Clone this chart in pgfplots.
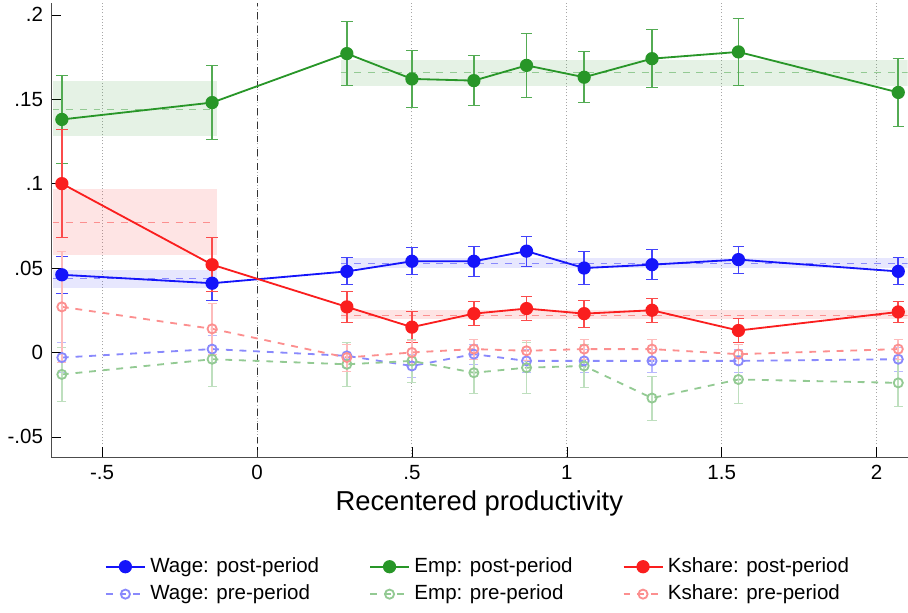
\documentclass[border=0pt]{standalone}
\usepackage{pgfplots}
\pgfplotsset{compat=1.18}
\usepackage{fontspec}
\setmainfont{Liberation Sans}
\definecolor{cb}{RGB}{20,20,250}
\definecolor{cg}{RGB}{40,150,40}
\definecolor{cr}{RGB}{250,30,30}
\begin{document}
\begin{tikzpicture}
\begin{axis}[
  scale only axis, width=13.2cm, height=7.0cm,
  xmin=-0.665, xmax=2.1, ymin=-0.062, ymax=0.207,
  xtick={-0.5,0,0.5,1,1.5,2}, xticklabels={-.5,0,.5,1,1.5,2},
  ytick={-0.05,0,0.05,0.1,0.15,0.2}, yticklabels={-.05,0,.05,.1,.15,.2},
  /pgf/number format/assume math mode=true,
  tick style={black}, axis line style={black!70},
  xmajorgrids, grid style={densely dotted, black!35},
  xlabel={Recentered productivity}, xlabel style={font=\large, yshift=2pt},
  ticklabel style={font=\small},
  axis x line*=bottom, axis y line*=left,
  legend style={at={(0.5,-0.2)}, anchor=north, draw=none, legend columns=3,
    /tikz/every even column/.append style={column sep=0.7cm}, font=\small,
    legend cell align=left},
  clip=true,
]
% bands
\addplot[forget plot, fill=cg, fill opacity=0.12, draw=none] coordinates {(-0.66,0.128)(-0.13,0.128)(-0.13,0.161)(-0.66,0.161)} -- cycle;
\addplot[forget plot, fill=cg, fill opacity=0.12, draw=none] coordinates {(0.27,0.158)(2.1,0.158)(2.1,0.173)(0.27,0.173)} -- cycle;
\addplot[forget plot, fill=cr, fill opacity=0.12, draw=none] coordinates {(-0.66,0.058)(-0.13,0.058)(-0.13,0.097)(-0.66,0.097)} -- cycle;
\addplot[forget plot, fill=cr, fill opacity=0.12, draw=none] coordinates {(0.27,0.020)(2.1,0.020)(2.1,0.025)(0.27,0.025)} -- cycle;
\addplot[forget plot, fill=cb, fill opacity=0.10, draw=none] coordinates {(-0.66,0.038)(-0.13,0.038)(-0.13,0.049)(-0.66,0.049)} -- cycle;
\addplot[forget plot, fill=cb, fill opacity=0.10, draw=none] coordinates {(0.27,0.050)(2.1,0.050)(2.1,0.056)(0.27,0.056)} -- cycle;
\addplot[forget plot, cg!50, dashed] coordinates {(-0.66,0.144)(-0.13,0.144)};
\addplot[forget plot, cg!50, dashed] coordinates {(0.27,0.166)(2.1,0.166)};
\addplot[forget plot, cr!50, dashed] coordinates {(-0.66,0.077)(-0.13,0.077)};
\addplot[forget plot, cr!50, dashed] coordinates {(0.27,0.022)(2.1,0.022)};
\addplot[forget plot, cb!50, dashed] coordinates {(-0.66,0.044)(-0.13,0.044)};
\addplot[forget plot, cb!50, dashed] coordinates {(0.27,0.053)(2.1,0.053)};
\addplot[forget plot, black!80, dashed] coordinates {(0,-0.062)(0,0.207)};
% post
\addplot[cb, thick, mark=*, mark size=2.5pt, error bars/.cd, y dir=both, y explicit, error bar style={cb!80,thick}] coordinates {
(-0.63,0.046)+-(0,0.011) (-0.145,0.041)+-(0,0.010) (0.29,0.048)+-(0,0.008) (0.50,0.054)+-(0,0.008) (0.70,0.054)+-(0,0.009) (0.87,0.060)+-(0,0.009) (1.056,0.050)+-(0,0.010) (1.275,0.052)+-(0,0.009) (1.554,0.055)+-(0,0.008) (2.07,0.048)+-(0,0.008)};
\addlegendentry{Wage: post-period}
\addplot[cg, thick, mark=*, mark size=2.5pt, error bars/.cd, y dir=both, y explicit, error bar style={cg!80,thick}] coordinates {
(-0.63,0.138)+-(0,0.026) (-0.145,0.148)+-(0,0.022) (0.29,0.177)+-(0,0.019) (0.50,0.162)+-(0,0.017) (0.70,0.161)+-(0,0.015) (0.87,0.170)+-(0,0.019) (1.056,0.163)+-(0,0.015) (1.275,0.174)+-(0,0.017) (1.554,0.178)+-(0,0.020) (2.07,0.154)+-(0,0.020)};
\addlegendentry{Emp: post-period}
\addplot[cr, thick, mark=*, mark size=2.5pt, error bars/.cd, y dir=both, y explicit, error bar style={cr!80,thick}] coordinates {
(-0.63,0.100)+-(0,0.032) (-0.145,0.052)+-(0,0.016) (0.29,0.027)+-(0,0.009) (0.50,0.015)+-(0,0.009) (0.70,0.023)+-(0,0.007) (0.87,0.026)+-(0,0.007) (1.056,0.023)+-(0,0.008) (1.275,0.025)+-(0,0.007) (1.554,0.013)+-(0,0.007) (2.07,0.024)+-(0,0.006)};
\addlegendentry{Kshare: post-period}
% pre
\addplot[cb!50, thick, dashed, mark=o, mark size=2pt, mark options={solid}, error bars/.cd, y dir=both, y explicit, error bar style={cb!30,thick,solid}] coordinates {
(-0.63,-0.003)+-(0,0.009) (-0.145,0.002)+-(0,0.008) (0.29,-0.002)+-(0,0.007) (0.50,-0.008)+-(0,0.007) (0.70,-0.001)+-(0,0.006) (0.87,-0.005)+-(0,0.007) (1.056,-0.005)+-(0,0.007) (1.275,-0.005)+-(0,0.007) (1.554,-0.005)+-(0,0.007) (2.07,-0.004)+-(0,0.007)};
\addlegendentry{Wage: pre-period}
\addplot[cg!50, thick, dashed, mark=o, mark size=2pt, mark options={solid}, error bars/.cd, y dir=both, y explicit, error bar style={cg!30,thick,solid}] coordinates {
(-0.63,-0.013)+-(0,0.016) (-0.145,-0.004)+-(0,0.016) (0.29,-0.007)+-(0,0.013) (0.50,-0.005)+-(0,0.013) (0.70,-0.012)+-(0,0.012) (0.87,-0.009)+-(0,0.015) (1.056,-0.008)+-(0,0.013) (1.275,-0.027)+-(0,0.013) (1.554,-0.016)+-(0,0.014) (2.07,-0.018)+-(0,0.014)};
\addlegendentry{Emp: pre-period}
\addplot[cr!50, thick, dashed, mark=o, mark size=2pt, mark options={solid}, error bars/.cd, y dir=both, y explicit, error bar style={cr!30,thick,solid}] coordinates {
(-0.63,0.027)+-(0,0.033) (-0.145,0.014)+-(0,0.015) (0.29,-0.003)+-(0,0.008) (0.50,0.000)+-(0,0.007) (0.70,0.002)+-(0,0.006) (0.87,0.001)+-(0,0.006) (1.056,0.002)+-(0,0.006) (1.275,0.002)+-(0,0.006) (1.554,-0.001)+-(0,0.006) (2.07,0.002)+-(0,0.006)};
\addlegendentry{Kshare: pre-period}
\end{axis}
\end{tikzpicture}
\end{document}
